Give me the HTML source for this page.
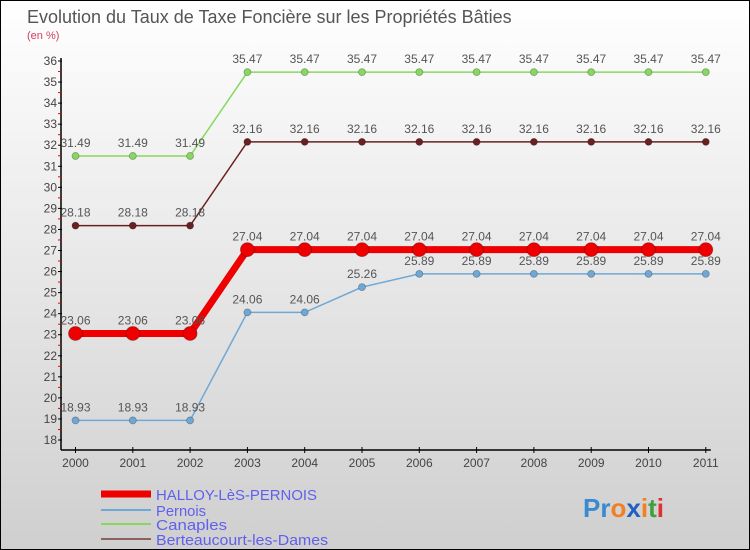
<!DOCTYPE html>
<html><head><meta charset="utf-8"><style>
body{margin:0}
#c{position:relative;width:748px;height:548px;border:1px solid #000;background:linear-gradient(#fff,#cfcfcf);font-family:"Liberation Sans",sans-serif;overflow:hidden}
</style></head><body>
<div id="c">
<svg id="s" width="748" height="548" style="position:absolute;left:0;top:0">
<text x="26" y="22" font-size="18" fill="#555">Evolution du Taux de Taxe Foncière sur les Propriétés Bâties</text>
<text x="26" y="38" font-size="11" fill="#d04060">(en %)</text>
<g id="g"></g>
</svg>
</div>
<script>
const years=[2000,2001,2002,2003,2004,2005,2006,2007,2008,2009,2010,2011];
const halloy=[23.06,23.06,23.06,27.04,27.04,27.04,27.04,27.04,27.04,27.04,27.04,27.04];
const pernois=[18.93,18.93,18.93,24.06,24.06,25.26,25.89,25.89,25.89,25.89,25.89,25.89];
const canaples=[31.49,31.49,31.49,35.47,35.47,35.47,35.47,35.47,35.47,35.47,35.47,35.47];
const berteaucourt=[28.18,28.18,28.18,32.16,32.16,32.16,32.16,32.16,32.16,32.16,32.16,32.16];
const yTicks=[18,19,20,21,22,23,24,25,26,27,28,29,30,31,32,33,34,35,36];
const NS="http://www.w3.org/2000/svg";
const g=document.getElementById('g');
const X=i=>74.5+i*57.3;
const Y=v=>439-(v-18)*(439-60)/18;
function el(t,a,p){const e=document.createElementNS(NS,t);for(const k in a)e.setAttribute(k,a[k]);(p||g).appendChild(e);return e;}
let e=el('line',{x1:60,y1:Y(36)-3,x2:60,y2:449,stroke:'#000','stroke-width':1.5});


e=el('line',{x1:60,y1:449,x2:X(11)+5,y2:449,stroke:'#000','stroke-width':1.5});


yTicks.forEach((v,i)=>{
 el('line',{x1:57,x2:61,y1:Y(v),y2:Y(v),stroke:'#000'});
 if(i<yTicks.length-1)el('line',{x1:57,x2:60,y1:Y(v+0.5),y2:Y(v+0.5),stroke:'#e00'});
 const t=el('text',{x:56,y:Y(v)+4,'text-anchor':'end','font-size':12,fill:'#444'});t.textContent=v;
 
 
});
years.forEach((y,i)=>{
 el('line',{x1:X(i),x2:X(i),y1:446,y2:452,stroke:'#000'});
 const t=el('text',{x:X(i),y:466,'text-anchor':'middle','font-size':12,fill:'#444'});t.textContent=y;
 
 
});
function series(d,col,w,r,name){
 const p=el('polyline',{points:d.map((v,i)=>X(i)+','+Y(v)).join(' '),fill:'none',stroke:col,'stroke-width':w});
 
 
 d.forEach((v,i)=>{
  const c=el('circle',{cx:X(i),cy:Y(v),r:r,fill:col,stroke:'rgba(0,0,0,0.3)','stroke-width':0.8});
  
  
  const t=el('text',{x:X(i),y:Y(v)-9,'text-anchor':'middle','font-size':12,fill:'#555'});
  t.textContent=(Math.round(v*100)/100).toString();
  
  
 });
}
series(pernois,'#6fa8d6',1.5,3.5,'pernois');
series(canaples,'#88d860',1.5,3.5,'canaples');
series(berteaucourt,'#6a2020',1.5,3.5,'berteaucourt');
series(halloy,'#ee0000',7,7,'halloy');
const leg=[['HALLOY-LèS-PERNOIS','#ee0000',7,493,161],['Pernois','#6fa8d6',2,509,50],['Canaples','#88d860',2,523,71],['Berteaucourt-les-Dames','#8a6060',2,538,172]];
leg.forEach((l)=>{
 const y=l[3];
 const ln=el('line',{x1:100,x2:150,y1:y,y2:y,stroke:l[1],'stroke-width':l[2]});
 
 
 const t=el('text',{x:155,y:y+6,'font-size':15,fill:'#6060ee',textLength:l[4],lengthAdjust:'spacingAndGlyphs'});t.textContent=l[0];
 
 
});
const lg=el('text',{x:582,y:516,'font-size':26,'font-weight':'bold'});


[['Pr','#3a8ad0'],['o','#f08020'],['x','#2060c0'],['i','#f08020'],['t','#40a040'],['i','#e03030']].forEach(a=>{const s=el('tspan',{fill:a[1]},lg);s.textContent=a[0];});
</script>
</body></html>
